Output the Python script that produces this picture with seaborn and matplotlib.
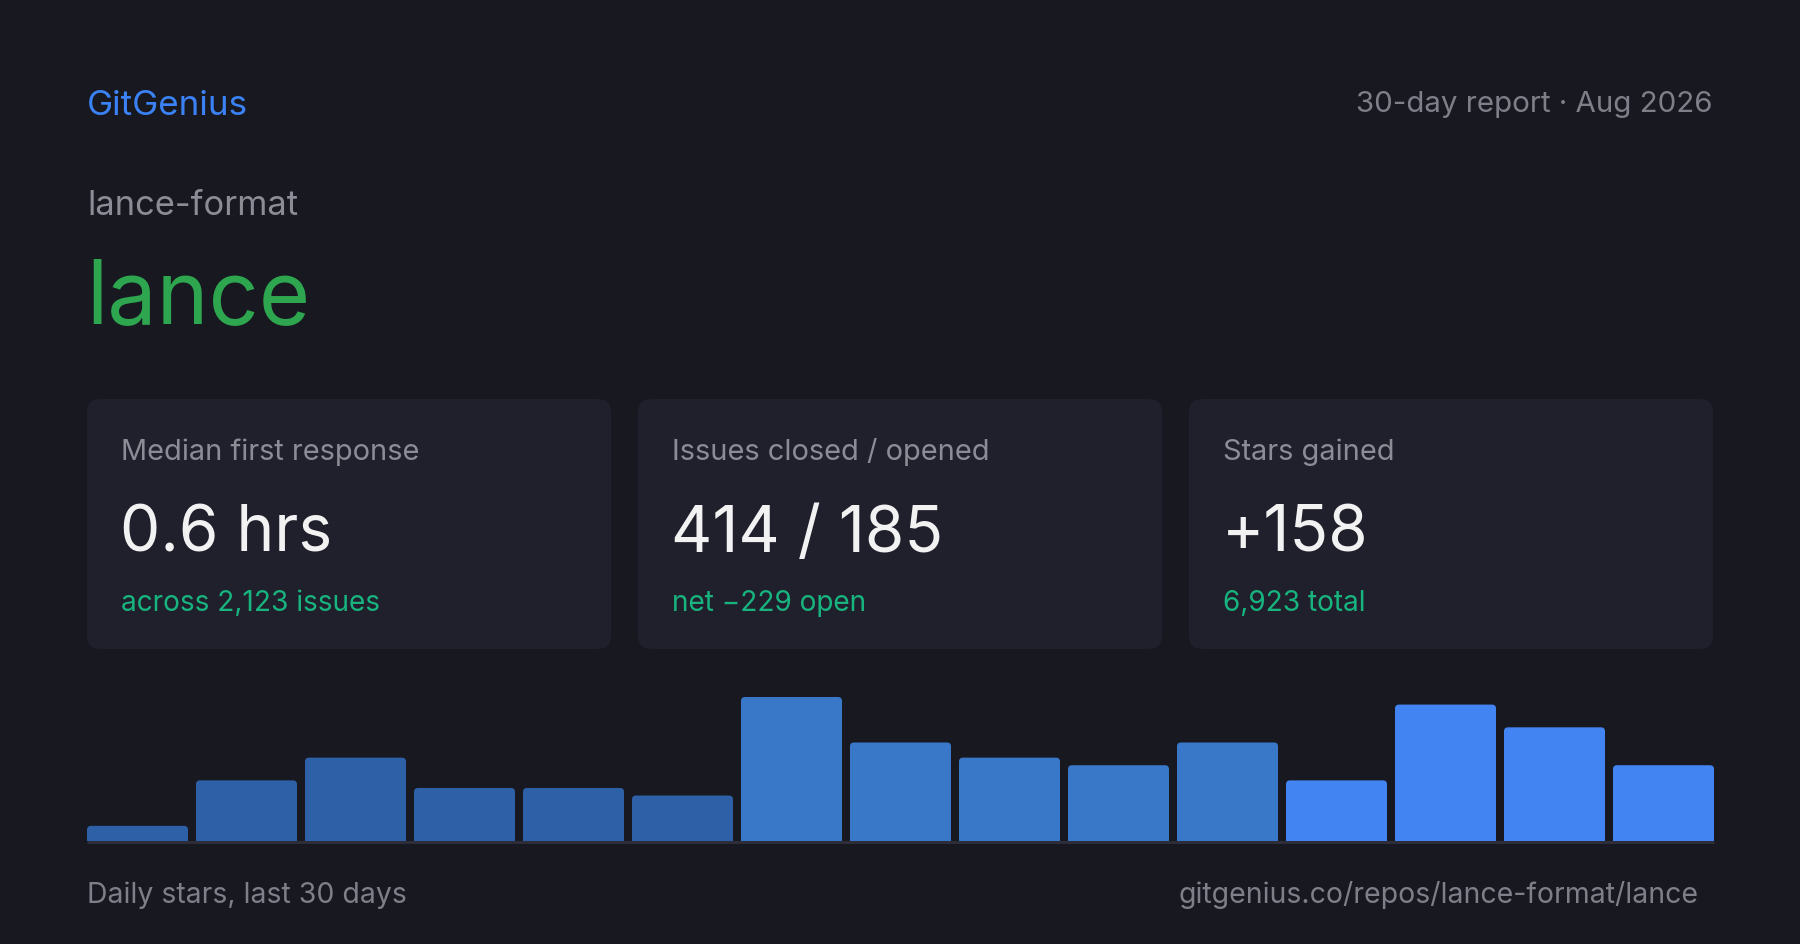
import matplotlib
matplotlib.use("Agg")
import matplotlib.pyplot as plt
from matplotlib.patches import FancyBboxPatch
import seaborn as sns
import pandas as pd

# ---- data ----
periods = [f"P{i+1}" for i in range(15)]
daily_stars = [2, 8, 11, 7, 7, 6, 19, 13, 11, 10, 13, 8, 18, 15, 10]
bar_colors = ["#2e60a8"] * 6 + ["#3978c9"] * 5 + ["#4285f2"] * 4

card_labels = ["Median first response", "Issues closed / opened", "Stars gained"]
card_values = ["0.6 hrs", "414 / 185", "+158"]
card_subs = ["across 2,123 issues", "net \u2212229 open", "6,923 total"]

brand = "GitGenius"
report_label = "30-day report \u00b7 Aug 2026"
owner = "lance-format"
repo = "lance"
footer_left = "Daily stars, last 30 days"
footer_right = "gitgenius.co/repos/lance-format/lance"

# ---- style ----
BG = "#171820"
CARD = "#1f202b"
GRAY = "#8b8c96"
GRAY2 = "#7e7f89"
WHITE = "#f2f2f3"
TEAL = "#18b47f"
GREEN = "#2ea64f"
BLUE = "#3b82f6"
LINE = "#2c2d39"

sns.set_theme(style="white")
plt.rcParams["font.family"] = ["Inter", "DejaVu Sans"]

W, H = 1800, 945
DPI = 100
fig = plt.figure(figsize=(W / DPI, H / DPI), dpi=DPI, facecolor=BG)

def px(v):
    return v * 72.0 / DPI

# overlay axes in pixel coordinates
bgax = fig.add_axes([0, 0, 1, 1])
bgax.set_xlim(0, W)
bgax.set_ylim(H, 0)
bgax.axis("off")
bgax.set_facecolor(BG)

bgax.text(87, 115, brand, color=BLUE, fontsize=px(35), va="baseline", ha="left")
bgax.text(1712, 112, report_label, color=GRAY2, fontsize=px(29.5), va="baseline", ha="right")
bgax.text(87, 215, owner, color=GRAY, fontsize=px(34.5), va="baseline", ha="left")
bgax.text(86, 323, repo, color=GREEN, fontsize=px(88), va="baseline", ha="left")

card_x = [87, 638, 1189]
card_w = 524
card_top, card_bot = 400, 650
for cx, lab, val, sub in zip(card_x, card_labels, card_values, card_subs):
    box = FancyBboxPatch((cx, card_top), card_w, card_bot - card_top,
                         boxstyle="round,pad=0,rounding_size=13",
                         facecolor=CARD, edgecolor="none", zorder=1)
    bgax.add_patch(box)
    bgax.text(cx + 34, 460, lab, color=GRAY, fontsize=px(29), va="baseline", ha="left", zorder=2)
    bgax.text(cx + 33, 552, val, color=WHITE, fontsize=px(64), va="baseline", ha="left", zorder=2)
    bgax.text(cx + 34, 611, sub, color=TEAL, fontsize=px(28), va="baseline", ha="left", zorder=2)

bgax.text(87, 903, footer_left, color=GRAY2, fontsize=px(28.4), va="baseline", ha="left")
bgax.text(1699, 903, footer_right, color=GRAY2, fontsize=px(28.4), va="baseline", ha="right")

# baseline rule under the bars
bgax.plot([87, 1714], [843, 843], color=LINE, lw=2.2, solid_capstyle="butt", zorder=5)

# ---- bar chart ----
left, right = 87, 1714
base_y, top_y = 842, 698
ax = fig.add_axes([left / W, (H - base_y) / H, (right - left) / W, (base_y - top_y) / H])
ax.set_facecolor("none")
df = pd.DataFrame({"period": periods, "stars": daily_stars})
sns.barplot(data=df, x="period", y="stars", hue="period", palette=bar_colors,
            width=101 / 109, legend=False, ax=ax, saturation=1)
pad = 0.5 - (101 / 109) / 2
ax.set_xlim(-0.5 + pad, len(periods) - 0.5 - pad)
ax.set_ylim(0, max(daily_stars))
ax.axis("off")

# rounded tops: replace each bar with a rounded patch of the same geometry
unit_x_px = (right - left) / (len(periods) - 2 * pad)
unit_y_px = (base_y - top_y) / max(daily_stars)
r_px = 4
for p in list(ax.patches):
    x0, w, h = p.get_x(), p.get_width(), p.get_height()
    fc = p.get_facecolor()
    rp = FancyBboxPatch((x0, -2), w, h + 2,
                        boxstyle=f"round,pad=0,rounding_size={r_px / unit_x_px}",
                        mutation_aspect=unit_x_px / unit_y_px,
                        facecolor=fc, edgecolor="none", clip_on=True)
    ax.add_patch(rp)
    p.remove()

fig.savefig("out.png", dpi=DPI, facecolor=BG)
